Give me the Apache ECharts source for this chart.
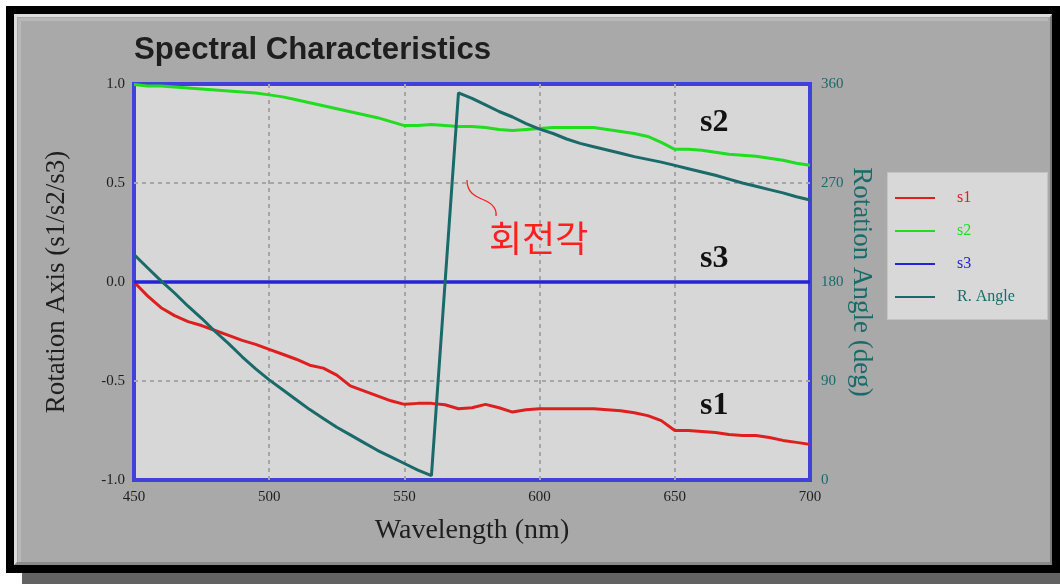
<!DOCTYPE html>
<html>
<head>
<meta charset="utf-8">
<script src="https://cdn.jsdelivr.net/npm/echarts@6/dist/echarts.min.js"></script>
<style>
  html, body { margin: 0; padding: 0; background: #ffffff; }
  #wrap { position: relative; width: 1060px; height: 584px; overflow: hidden; background: #ffffff; }
  .abs { position: absolute; box-sizing: border-box; }
  #chart { position: absolute; left: 0; top: 0; width: 1060px; height: 584px; }
</style>
</head>
<body>
<div id="wrap">
  <div class="abs" style="left:22px;top:573px;width:1040px;height:12px;background:#626262;"></div>
  <div class="abs" style="left:6px;top:6px;width:1060px;height:567px;background:#000000;"></div>
  <div class="abs" style="left:14px;top:14px;width:1038px;height:551px;background:#a9a9a9;border-top:3px solid #dcdcdc;border-left:3px solid #dcdcdc;border-right:2px solid #7a7a7a;border-bottom:3px solid #8a8a8a;"></div>
  <div class="abs" style="left:18px;top:18px;width:1030px;height:544px;border-top:3px solid #b8b8b8;border-left:3px solid #b8b8b8;"></div>
  <div class="abs" style="left:887px;top:172px;width:161px;height:148px;background:#d8d8d8;border:1px solid #c4c4c4;"></div>
  <div id="chart"></div>
</div>
<script>
// ---- data ----
var wavelengths = [450,455,460,465,470,475,480,485,490,495,500,505,510,515,520,525,530,535,540,545,550,555,560,565,570,575,580,585,590,595,600,605,610,615,620,625,630,635,640,645,650,655,660,665,670,675,680,685,690,695,700];
var s1Values = [0.0,-0.07,-0.13,-0.17,-0.20,-0.22,-0.245,-0.27,-0.295,-0.315,-0.34,-0.365,-0.39,-0.42,-0.435,-0.47,-0.525,-0.55,-0.575,-0.60,-0.618,-0.613,-0.613,-0.62,-0.64,-0.635,-0.618,-0.635,-0.657,-0.645,-0.64,-0.64,-0.64,-0.64,-0.64,-0.645,-0.65,-0.66,-0.675,-0.70,-0.75,-0.75,-0.755,-0.76,-0.77,-0.775,-0.775,-0.785,-0.80,-0.81,-0.82];
var s2Values = [0.997,0.99,0.99,0.985,0.98,0.975,0.97,0.965,0.96,0.955,0.945,0.935,0.92,0.905,0.89,0.875,0.86,0.845,0.83,0.81,0.79,0.79,0.795,0.79,0.785,0.785,0.78,0.77,0.765,0.77,0.775,0.78,0.78,0.78,0.78,0.77,0.76,0.75,0.735,0.705,0.67,0.67,0.665,0.655,0.645,0.64,0.635,0.625,0.615,0.60,0.59];
var s3Values = [0,0,0,0,0,0,0,0,0,0,0,0,0,0,0,0,0,0,0,0,0,0,0,0,0,0,0,0,0,0,0,0,0,0,0,0,0,0,0,0,0,0,0,0,0,0,0,0,0,0,0];
var angleValues = [205,193,181,170,158,147,135,124,112,101,91,82,73,64,56,48,41,34,27,21,15,9,4,178,352,347,341,335,330,324,319,315,310,306,303,300,297,294,291.5,289,286,283,280,277,273.5,270,267,264,261,257.5,254.5];
var xTicks = [450,500,550,600,650,700];
var leftTicks = ['-1.0','-0.5','0.0','0.5','1.0'];
var rightTicks = ['0','90','180','270','360'];
var seriesNames = ['s1','s2','s3','R. Angle'];

var COLORS = { s1:'#de1f1f', s2:'#22dc22', s3:'#2424d6', ang:'#1b6a6a' };
var SERIF = '"Liberation Serif","DejaVu Serif","Times New Roman",serif';
var GRIDLINE = { show: true, showMinLine: false, showMaxLine: false, lineStyle: { color: '#a6a6a6', width: 2, type: [4,4] } };

function pairs(vals){ return wavelengths.map(function(w,i){ return [w, vals[i]]; }); }

var chart = echarts.init(document.getElementById('chart'), null, {renderer:'canvas'});
chart.setOption({
  animation: false,
  backgroundColor: 'transparent',
  title: {
    text: 'Spectral Characteristics',
    left: 134, top: 35, padding: 0,
    textStyle: { fontFamily: '"Liberation Sans",Arial,sans-serif', fontWeight: 'bold', fontSize: 31.2, color: '#1e1e1e' }
  },
  grid: {
    left: 134, right: 250, top: 84, bottom: 104,
    show: true, backgroundColor: '#d7d7d7', borderColor: '#4141d9', borderWidth: 4
  },
  legend: {
    orient: 'vertical', left: 895, top: 190, padding: 0,
    icon: 'rect', itemWidth: 40, itemHeight: 2, itemGap: 17,
    textStyle: { fontFamily: SERIF, fontSize: 16, lineHeight: 16, padding: [0,0,0,17] },
    data: [
      { name: seriesNames[0], textStyle: { color: COLORS.s1 } },
      { name: seriesNames[1], textStyle: { color: COLORS.s2 } },
      { name: seriesNames[2], textStyle: { color: COLORS.s3 } },
      { name: seriesNames[3], textStyle: { color: COLORS.ang } }
    ]
  },
  xAxis: {
    type: 'value', min: xTicks[0], max: xTicks[xTicks.length-1], interval: 50,
    name: 'Wavelength (nm)', nameLocation: 'middle', nameGap: 37, nameMoveOverlap: false,
    nameTextStyle: { fontFamily: SERIF, fontSize: 28, color: '#1e1e1e' },
    axisLine: { show: false }, axisTick: { show: false },
    axisLabel: { margin: 10, fontFamily: SERIF, fontSize: 15, color: '#1e1e1e',
      formatter: function(v){ return xTicks.indexOf(v) >= 0 ? String(v) : ''; } },
    splitLine: GRIDLINE
  },
  yAxis: [
    {
      type: 'value', min: -1, max: 1, interval: 0.5, position: 'left',
      name: 'Rotation Axis (s1/s2/s3)', nameLocation: 'middle', nameGap: 64, nameMoveOverlap: false,
      nameTextStyle: { fontFamily: SERIF, fontSize: 27, color: '#1e1e1e' },
      axisLine: { show: false }, axisTick: { show: false },
      axisLabel: { margin: 9, fontFamily: SERIF, fontSize: 15, color: '#1e1e1e',
        formatter: function(v){ return leftTicks[Math.round((v + 1) / 0.5)]; } },
      splitLine: GRIDLINE
    },
    {
      type: 'value', min: 0, max: 360, interval: 90, position: 'right',
      name: 'Rotation Angle (deg)', nameLocation: 'middle', nameGap: 38, nameRotate: -90, nameMoveOverlap: false,
      nameTextStyle: { fontFamily: SERIF, fontSize: 27, color: COLORS.ang },
      axisLine: { show: false }, axisTick: { show: false },
      axisLabel: { margin: 11, fontFamily: SERIF, fontSize: 15, color: COLORS.ang,
        formatter: function(v){ return rightTicks[Math.round(v / 90)]; } },
      splitLine: { show: false }
    }
  ],
  series: [
    { name: seriesNames[0], type: 'line', data: pairs(s1Values), showSymbol: false, symbol: 'none',
      lineStyle: { color: COLORS.s1, width: 3 }, itemStyle: { color: COLORS.s1 }, z: 3 },
    { name: seriesNames[1], type: 'line', data: pairs(s2Values), showSymbol: false, symbol: 'none',
      lineStyle: { color: COLORS.s2, width: 3 }, itemStyle: { color: COLORS.s2 }, z: 3 },
    { name: seriesNames[2], type: 'line', data: pairs(s3Values), showSymbol: false, symbol: 'none',
      lineStyle: { color: COLORS.s3, width: 3.5 }, itemStyle: { color: COLORS.s3 }, z: 3 },
    { name: seriesNames[3], type: 'line', yAxisIndex: 1, data: pairs(angleValues), showSymbol: false, symbol: 'none',
      lineStyle: { color: COLORS.ang, width: 3 }, itemStyle: { color: COLORS.ang }, z: 4 }
  ],
  graphic: [
    { type: 'text', left: 700, top: 107, z: 10, style: { text: 's2', font: 'bold 32px ' + SERIF, fill: '#111111' } },
    { type: 'text', left: 700, top: 243, z: 10, style: { text: 's3', font: 'bold 32px ' + SERIF, fill: '#111111' } },
    { type: 'text', left: 700, top: 390, z: 10, style: { text: 's1', font: 'bold 32px ' + SERIF, fill: '#111111' } },
    { type: 'text', left: 489, top: 220, z: 10, style: { text: '회전각', font: '36px "Noto Sans CJK KR",sans-serif', fill: '#ff1f1f' } },
    { type: 'bezierCurve', z: 10, shape: { x1: 467, y1: 180, cpx1: 467, cpy1: 192, cpx2: 474, cpy2: 196, x2: 484, y2: 200 },
      style: { stroke: '#ff1f1f', lineWidth: 1.3, fill: null } },
    { type: 'bezierCurve', z: 10, shape: { x1: 484, y1: 200, cpx1: 493, cpy1: 204, cpx2: 497, cpy2: 209, x2: 496, y2: 216 },
      style: { stroke: '#ff1f1f', lineWidth: 1.3, fill: null } }
  ]
});
</script>
</body>
</html>
